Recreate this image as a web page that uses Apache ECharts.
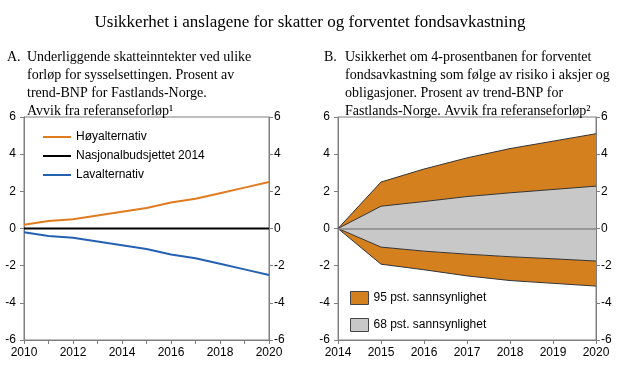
<!DOCTYPE html>
<html>
<head>
<meta charset="utf-8">
<script src="https://cdn.jsdelivr.net/npm/echarts@6/dist/echarts.min.js"></script>
<style>
  html, body { margin: 0; padding: 0; background: #fff; }
  #chart { width: 620px; height: 376px; }
</style>
</head>
<body>
<div id="chart"></div>
<script>
// panel A
const yearsA = ['2010', '2011', '2012', '2013', '2014', '2015', '2016', '2017', '2018', '2019', '2020'];
const hoy = [0.2, 0.4, 0.5, 0.7, 0.9, 1.1, 1.4, 1.6, 1.9, 2.2, 2.5];
const nasjonal = [0, 0, 0, 0, 0, 0, 0, 0, 0, 0, 0];
const lav = [-0.2, -0.4, -0.5, -0.7, -0.9, -1.1, -1.4, -1.6, -1.9, -2.2, -2.5];

// panel B
const yearsB = ['2014', '2015', '2016', '2017', '2018', '2019', '2020'];
const upper95 = [0, 2.5, 3.2, 3.8, 4.3, 4.7, 5.1];
const upper68 = [0, 1.2, 1.45, 1.72, 1.92, 2.1, 2.28];
const lower68 = [0, -1.0, -1.22, -1.38, -1.52, -1.63, -1.75];
const lower95 = [0, -1.92, -2.22, -2.55, -2.8, -2.95, -3.1];

const yTicks = [-6, 6, 2];

const serif = 'Liberation Serif';
const sans = 'Liberation Sans';
const axisColor = '#7f7f7f';

const chart = echarts.init(document.getElementById('chart'));

function yAxis(grid, pos, margin) {
    return {
        type: 'value', gridIndex: grid, position: pos,
        min: yTicks[0], max: yTicks[1], interval: yTicks[2],
        axisLine: { show: true, lineStyle: { color: axisColor } },
        axisTick: { show: true, length: 4, lineStyle: { color: axisColor } },
        axisLabel: { color: '#000', fontFamily: sans, fontSize: 12, margin: margin },
        splitLine: { show: false }
    };
}

function xAxis(grid, data, labelInterval) {
    return {
        type: 'category', gridIndex: grid, data: data, boundaryGap: false,
        axisLine: { show: true, onZero: false, lineStyle: { color: axisColor } },
        axisTick: { show: true, length: 4, interval: 0, lineStyle: { color: axisColor } },
        axisLabel: { color: '#000', fontFamily: sans, fontSize: 12, margin: 7, interval: labelInterval, showMinLabel: true, showMaxLabel: true },
        splitLine: { show: false }
    };
}

const diff = (a, b) => a.map((v, i) => +(v - b[i]).toFixed(3));

const bandLine = { color: '#333', width: 1 };

let options = {
    animation: false,
    title: [
        { text: 'Usikkerhet i anslagene for skatter og forventet fondsavkastning', left: 'center', top: 9,
          textStyle: { fontFamily: serif, fontSize: 17, fontWeight: 'normal', color: '#000' } },
        { text: 'A.', left: 2, top: 43,
          textStyle: { fontFamily: serif, fontSize: 14, fontWeight: 'normal', color: '#000', lineHeight: 18 } },
        { text: 'Underliggende skatteinntekter ved ulike\nforløp for sysselsettingen. Prosent av\ntrend-BNP for Fastlands-Norge.\nAvvik fra referanseforløp¹', left: 22, top: 43,
          textStyle: { fontFamily: serif, fontSize: 14, fontWeight: 'normal', color: '#000', lineHeight: 18 } },
        { text: 'B.', left: 319, top: 43,
          textStyle: { fontFamily: serif, fontSize: 14, fontWeight: 'normal', color: '#000', lineHeight: 18 } },
        { text: 'Usikkerhet om 4-prosentbanen for forventet\nfondsavkastning som følge av risiko i aksjer og\nobligasjoner. Prosent av trend-BNP for\nFastlands-Norge. Avvik fra referanseforløp²', left: 340, top: 43,
          textStyle: { fontFamily: serif, fontSize: 14, fontWeight: 'normal', color: '#000', lineHeight: 18 } }
    ],
    grid: [
        { left: 24, right: 351, top: 117, bottom: 36, show: true, borderColor: axisColor, borderWidth: 1 },
        { left: 338, right: 24, top: 117, bottom: 36, show: true, borderColor: axisColor, borderWidth: 1 }
    ],
    legend: [
        { data: ['Høyalternativ', 'Nasjonalbudsjettet 2014', 'Lavalternativ'], orient: 'vertical',
          left: 38, top: 126, itemGap: 7, itemWidth: 28, itemHeight: 2, icon: 'rect',
          textStyle: { fontFamily: sans, fontSize: 12, color: '#000' } },
        { data: ['95 pst. sannsynlighet', '68 pst. sannsynlighet'], orient: 'vertical',
          left: 345, top: 286, itemGap: 13, itemWidth: 18, itemHeight: 13, icon: 'rect',
          itemStyle: { borderColor: '#444', borderWidth: 1 },
          textStyle: { fontFamily: sans, fontSize: 12, color: '#000' } }
    ],
    xAxis: [xAxis(0, yearsA, 1), xAxis(1, yearsB, 0)],
    yAxis: [yAxis(0, 'left', 8), yAxis(0, 'right', 5), yAxis(1, 'left', 8), yAxis(1, 'right', 5)],
    series: [
        { name: 'Høyalternativ', type: 'line', xAxisIndex: 0, yAxisIndex: 0, data: hoy, symbol: 'none',
          itemStyle: { color: '#E07B1F' }, lineStyle: { color: '#E07B1F', width: 2 } },
        { name: 'Nasjonalbudsjettet 2014', type: 'line', xAxisIndex: 0, yAxisIndex: 0, data: nasjonal, symbol: 'none',
          itemStyle: { color: '#000' }, lineStyle: { color: '#000', width: 2 } },
        { name: 'Lavalternativ', type: 'line', xAxisIndex: 0, yAxisIndex: 0, data: lav, symbol: 'none',
          itemStyle: { color: '#2461B2' }, lineStyle: { color: '#2461B2', width: 2 } },

        { name: 'base', type: 'line', xAxisIndex: 1, yAxisIndex: 2, data: lower95, symbol: 'none',
          stack: 'fan', stackStrategy: 'all', lineStyle: bandLine, itemStyle: { color: '#333' } },
        { name: '95 pst. sannsynlighet', type: 'line', xAxisIndex: 1, yAxisIndex: 2, data: diff(lower68, lower95), symbol: 'none',
          stack: 'fan', stackStrategy: 'all', lineStyle: bandLine, itemStyle: { color: '#D5801F' },
          areaStyle: { color: '#D5801F', opacity: 1 } },
        { name: '68 pst. sannsynlighet', type: 'line', xAxisIndex: 1, yAxisIndex: 2, data: diff(upper68, lower68), symbol: 'none',
          stack: 'fan', stackStrategy: 'all', lineStyle: bandLine, itemStyle: { color: '#C8C8C8' },
          areaStyle: { color: '#C8C8C8', opacity: 1 } },
        { name: '95 pst. sannsynlighet', type: 'line', xAxisIndex: 1, yAxisIndex: 2, data: diff(upper95, upper68), symbol: 'none',
          stack: 'fan', stackStrategy: 'all', lineStyle: bandLine, itemStyle: { color: '#D5801F' },
          areaStyle: { color: '#D5801F', opacity: 1 },
          markLine: { silent: true, symbol: 'none', label: { show: false },
                      lineStyle: { color: '#888', width: 1.5, type: 'solid' }, data: [{ yAxis: 0 }] } }
    ]
};
options && chart.setOption(options);
</script>
</body>
</html>
